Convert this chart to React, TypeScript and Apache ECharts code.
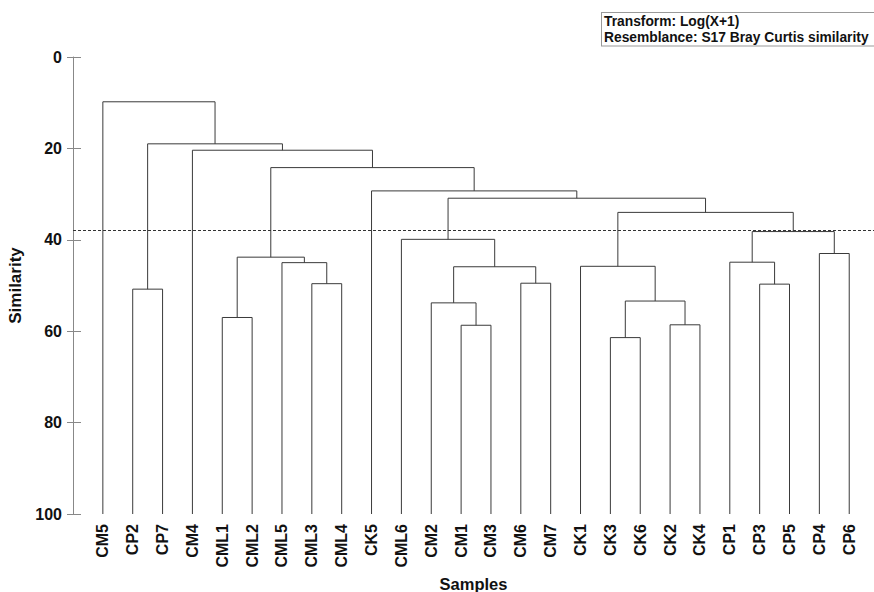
import React, { useEffect, useRef } from "react";
import * as echarts from "echarts";

const leaves = [
  "CM5", "CP2", "CP7", "CM4", "CML1", "CML2", "CML5", "CML3", "CML4", "CK5",
  "CML6", "CM2", "CM1", "CM3", "CM6", "CM7", "CK1", "CK3", "CK6", "CK2",
  "CK4", "CP1", "CP3", "CP5", "CP4", "CP6",
];

// Each merge joins two members (leaf names or "#i" = result of merge i) at a similarity level
const mergeLeft = ["CP2", "CML1", "CML3", "CML5", "#1", "CM1", "CM2", "CM6", "#6", "CML6", "CK3", "CK2", "#10", "CK1", "CP3", "CP1", "CP4", "#15", "#13", "#9", "CK5", "#4", "CM4", "#0", "CM5"];
const mergeRight = ["CP7", "CML2", "CML4", "#2", "#3", "CM3", "#5", "CM7", "#7", "#8", "CK6", "CK4", "#11", "#12", "CP5", "#14", "CP6", "#16", "#17", "#18", "#19", "#20", "#21", "#22", "#23"];
const mergeHeight = [50.8, 57.0, 49.6, 45.0, 43.8, 58.7, 53.8, 49.5, 45.9, 39.9, 61.4, 58.6, 53.4, 45.8, 49.7, 44.9, 43.0, 38.2, 34.0, 30.9, 29.3, 24.2, 20.4, 19.0, 9.8];

const leafLevel = 100;
const cutLevel = 38.0;
const yTicks = [0, 20, 40, 60, 80, 100];
const noteLines = ["Transform: Log(X+1)", "Resemblance: S17 Bray Curtis similarity"];

const FONT = "'Liberation Sans', Arial, Helvetica, sans-serif";

function buildLinks() {
  const nodeX: number[] = [];
  const member = (id: string): [number, number] => {
    if (id.startsWith("#")) {
      const i = parseInt(id.slice(1), 10);
      return [nodeX[i], mergeHeight[i]];
    }
    return [leaves.indexOf(id), leafLevel];
  };
  const links: number[][] = [];
  for (let i = 0; i < mergeHeight.length; i++) {
    const [xl, hl] = member(mergeLeft[i]);
    const [xr, hr] = member(mergeRight[i]);
    nodeX[i] = (xl + xr) / 2;
    links.push([xl, hl, xr, hr, mergeHeight[i]]);
  }
  return links;
}

export default function App() {
  const ref = useRef<HTMLDivElement>(null);
  useEffect(() => {
    if (!ref.current) return;
    const chart = echarts.init(ref.current, null, { renderer: "svg" });
    const links = buildLinks();
    const yAxisBase = {
      type: "value" as const,
      min: 0,
      max: 100,
      interval: 20,
      inverse: true,
      position: "left" as const,
      splitLine: { show: false },
    };
    chart.setOption({
      animation: false,
      backgroundColor: "#ffffff",
      grid: { left: 73, right: 0, top: 57, bottom: 78, containLabel: false, outerBoundsMode: "none" },
      xAxis: {
        type: "value",
        min: -1,
        max: 25.83,
        interval: 1,
        axisLine: { show: false, onZero: false },
        axisTick: { show: false },
        splitLine: { show: false },
        axisLabel: {
          rotate: 90,
          margin: 10,
          fontSize: 16,
          fontWeight: "bold",
          fontFamily: FONT,
          color: "#111",
          showMaxLabel: false,
          formatter: (v: number) =>
            Number.isInteger(v) && v >= 0 && v < leaves.length ? leaves[v] : "",
        },
        name: "Samples",
        nameLocation: "middle",
        nameGap: 59,
        nameTextStyle: { fontSize: 16.5, fontWeight: "bold", fontFamily: FONT, color: "#111" },
      },
      yAxis: [
        {
          ...yAxisBase,
          axisLine: { show: true, onZero: false, lineStyle: { color: "#888", width: 1 } },
          axisTick: { show: true, length: 6, lineStyle: { color: "#888" } },
          axisLabel: {
            margin: 11,
            fontSize: 16,
            fontWeight: "bold",
            fontFamily: FONT,
            color: "#111",
            formatter: (v: number) => (yTicks.includes(v) ? String(v) : ""),
          },
          name: "Similarity",
          nameLocation: "middle",
          nameGap: 46,
          nameTextStyle: { fontSize: 17, fontWeight: "bold", fontFamily: FONT, color: "#111" },
        },
        {
          ...yAxisBase,
          axisLine: { show: false, onZero: false },
          axisTick: { show: true, inside: true, length: 8, lineStyle: { color: "#888" } },
          axisLabel: { show: false },
        },
      ],
      graphic: [
        { type: "line", shape: { x1: 601, y1: 12.5, x2: 874, y2: 12.5 }, style: { stroke: "#999", lineWidth: 1 } },
        { type: "line", shape: { x1: 601, y1: 46, x2: 874, y2: 46 }, style: { stroke: "#999", lineWidth: 1 } },
        { type: "line", shape: { x1: 601.5, y1: 12.5, x2: 601.5, y2: 46 }, style: { stroke: "#999", lineWidth: 1 } },
        {
          type: "text",
          left: 604,
          top: 14,
          style: { text: noteLines[0], font: `bold 13.8px ${FONT}`, fill: "#111" },
        },
        {
          type: "text",
          left: 604,
          top: 30,
          style: { text: noteLines[1], font: `bold 13.8px ${FONT}`, fill: "#111" },
        },
      ],
      series: [
        {
          type: "custom",
          coordinateSystem: "cartesian2d",
          xAxisIndex: 0,
          yAxisIndex: 0,
          encode: { x: [0, 2], y: [1, 3, 4] },
          data: links,
          renderItem: (_params: any, api: any) => {
            const xl = api.value(0), hl = api.value(1), xr = api.value(2), hr = api.value(3), h = api.value(4);
            const pts = [
              api.coord([xl, hl]),
              api.coord([xl, h]),
              api.coord([xr, h]),
              api.coord([xr, hr]),
            ];
            return {
              type: "polyline",
              shape: { points: pts },
              style: { stroke: "#3a3a3a", lineWidth: 1, fill: null },
            };
          },
          markLine: {
            silent: true,
            symbol: "none",
            label: { show: false },
            lineStyle: { color: "#333", type: [3, 2], width: 1 },
            data: [{ yAxis: cutLevel }],
          },
        },
      ],
    });
    return () => chart.dispose();
  }, []);
  return (
    <div
      ref={ref}
      style={{ position: "fixed", left: 0, top: 0, width: 874, height: 592, background: "#fff" }}
    />
  );
}
